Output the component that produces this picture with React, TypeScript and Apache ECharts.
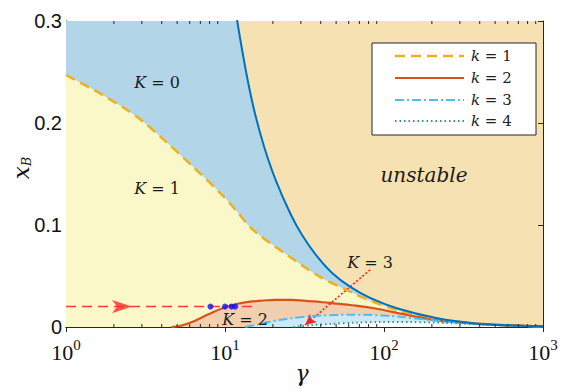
import { useEffect, useRef } from 'react';
import * as echarts from 'echarts';

// stability boundary (blue solid)
const boundaryGamma = [1, 5, 8, 10, 11.95, 12.74, 13.93, 15.49, 17.72, 20.99, 25.97, 30.45, 37.29, 47.17, 61.4, 81.8, 119, 212.4, 342.4, 544, 1000];
const boundaryXB = [10, 1.2, 0.53, 0.39, 0.3, 0.2738, 0.241, 0.2083, 0.1755, 0.1427, 0.11, 0.0904, 0.0707, 0.053, 0.0393, 0.0285, 0.0187, 0.0088, 0.0042, 0.002, 0.0008];

// k = 1 (dashed)
const k1Gamma = [1, 1.7, 2.8, 4.3, 6.3, 9.3, 11.2, 15, 24.6, 39.6, 63.8, 70.6, 109, 152, 225, 363, 600, 1000];
const k1XB = [0.247, 0.2275, 0.206, 0.181, 0.157, 0.1316, 0.118, 0.0953, 0.0707, 0.0491, 0.0334, 0.03, 0.0187, 0.0125, 0.0075, 0.0037, 0.0017, 0.0007];

// k = 2 (solid orange)
const k2Gamma = [4.6, 5.2, 6.2, 7.3, 8.6, 10.2, 12, 14.4, 17.5, 21, 26, 31, 40, 48, 70, 85, 140, 200, 290, 500, 1000];
const k2XB = [0, 0.001, 0.005, 0.0101, 0.0152, 0.0199, 0.0228, 0.0248, 0.026, 0.0265, 0.0265, 0.0258, 0.0245, 0.0232, 0.0205, 0.0186, 0.0118, 0.0072, 0.0045, 0.002, 0.0006];

// k = 3 (dash-dot)
const k3Gamma = [13.4, 16, 19, 22, 27, 33, 40, 50, 60, 75, 100, 130, 195, 300, 500, 1000];
const k3XB = [0, 0.0025, 0.005, 0.0068, 0.0088, 0.0103, 0.0112, 0.0118, 0.012, 0.0119, 0.0112, 0.0098, 0.0069, 0.0042, 0.0018, 0.0005];

// k = 4 (dotted)
const k4Gamma = [27, 35, 46, 65, 94, 150, 250, 400, 650, 1000];
const k4XB = [0, 0.0018, 0.003, 0.0042, 0.0048, 0.0048, 0.004, 0.0026, 0.0013, 0.0004];

// trajectory annotation
const pathGamma = [1, 15.8];
const pathXB = 0.02;
const arrowGamma = 2.6;
const dotGamma = [8.1, 10, 11, 11.6];
const pointerFrom = [81.7, 0.056];
const pointerTo = [31.9, 0.002];

const xTicksMinor = [2, 3, 4, 5, 6, 7, 8, 9, 20, 30, 40, 50, 60, 70, 80, 90, 200, 300, 400, 500, 600, 700, 800, 900];
const legendLabels = ['1', '2', '3', '4'];

const pairs = (xs: number[], ys: number[]) => xs.map((x, i) => [x, ys[i]]);

const C = {
  unstable: '#f6e1b2',
  k0: '#b3d5e8',
  k1: '#faf7c8',
  k2: '#f2cfaf',
  k3: '#cde8f8',
  k4: '#ffffff',
  boundary: '#0072BD',
  l1: '#EDB120',
  l2: '#D95319',
  l3: '#4DBEEE',
  l4: '#1aa37a',
  axis: '#262626',
};

export default function App() {
  const ref = useRef<HTMLDivElement>(null);
  useEffect(() => {
    const chart = echarts.init(ref.current!, null, { renderer: 'svg' });
    const area = (data: number[][], color: string, z: number) => ({
      type: 'line', data, smooth: 0.3, symbol: 'none', showSymbol: false,
      lineStyle: { width: 0 }, areaStyle: { color, opacity: 1 }, z, silent: true,
    });
    const curve = (data: number[][], color: string, width: number, type: any, z: number) => ({
      type: 'line', data, smooth: 0.3, symbol: 'none', showSymbol: false,
      lineStyle: { color, width, type }, z, silent: true,
    });
    const bData = pairs(boundaryGamma, boundaryXB);
    const d1 = pairs(k1Gamma, k1XB);
    const d2 = pairs(k2Gamma, k2XB);
    const d3 = pairs(k3Gamma, k3XB);
    const d4 = pairs(k4Gamma, k4XB);

    const legendStyles = [
      { stroke: C.l1, lineWidth: 2.5, lineDash: [10, 6] },
      { stroke: C.l2, lineWidth: 2.2 },
      { stroke: C.l3, lineWidth: 2, lineDash: [9, 3, 2, 3] },
      { stroke: C.l4, lineWidth: 2, lineDash: [1.5, 3] },
    ];
    const legendY = [56, 78, 100, 121];

    const serifText = (text: string, x: number, y: number, size: number, italicAll = false) => ({
      type: 'text', x, y, z: 100,
      style: {
        text, fill: '#1a1a1a', fontFamily: 'DejaVu Serif', fontSize: size,
        fontStyle: italicAll ? 'italic' : 'normal',
        align: 'center', verticalAlign: 'middle',
        rich: { i: { fontStyle: 'italic', fontFamily: 'DejaVu Serif', fontSize: size } },
      },
    });

    const option: any = {
      animation: false,
      grid: { left: 66, top: 21, width: 477, height: 306, show: true, backgroundColor: C.unstable, borderWidth: 0 },
      xAxis: [
        {
          type: 'log', logBase: 10, min: 1, max: 1000,
          axisLine: { show: true, lineStyle: { color: C.axis, width: 1 } },
          axisTick: { show: true, inside: true, length: 5, lineStyle: { color: C.axis } },
          splitLine: { show: false },
          axisLabel: {
            margin: 10,
            formatter: (v: number) => `{b|10}{s|${Math.round(Math.log10(v))}}`,
            rich: {
              b: { fontSize: 22, fontFamily: 'Liberation Serif', color: '#111', lineHeight: 26, verticalAlign: 'bottom' },
              s: { fontSize: 15, fontFamily: 'Liberation Serif', color: '#111', lineHeight: 12, verticalAlign: 'top' },
            },
          },
        },
        {
          type: 'log', logBase: 10, min: 1, max: 1000, position: 'top',
          axisLine: { show: true, lineStyle: { color: C.axis, width: 1 } },
          axisTick: { show: true, inside: true, length: 5, lineStyle: { color: C.axis } },
          splitLine: { show: false }, axisLabel: { show: false },
        },
      ],
      yAxis: [
        {
          type: 'value', min: 0, max: 0.3, interval: 0.1,
          axisLine: { show: true, lineStyle: { color: C.axis, width: 1 } },
          axisTick: { show: true, inside: true, length: 5, lineStyle: { color: C.axis } },
          splitLine: { show: false },
          axisLabel: { margin: 4, fontSize: 20, fontFamily: 'Liberation Sans', color: '#111' },
        },
        {
          type: 'value', min: 0, max: 0.3, interval: 0.1, position: 'right',
          axisLine: { show: true, lineStyle: { color: C.axis, width: 1 } },
          axisTick: { show: true, inside: true, length: 5, lineStyle: { color: C.axis } },
          splitLine: { show: false }, axisLabel: { show: false },
        },
      ],
      series: [
        area(bData, C.k0, 1),
        area(d1, C.k1, 2),
        area(d2, C.k2, 3),
        area(d3, C.k3, 4),
        area(d4, C.k4, 5),
        curve(d1, C.l1, 2.5, [10, 6], 10),
        curve(d2, C.l2, 2.2, 'solid', 11),
        curve(d3, C.l3, 2, [9, 3, 2, 3], 12),
        curve(d4, C.l4, 2, [1.5, 3], 13),
        curve(bData, C.boundary, 2, 'solid', 14),
        {
          type: 'line', data: pathGamma.map((g) => [g, pathXB]), symbol: 'none', showSymbol: false,
          lineStyle: { color: '#ff3b3b', width: 1.5, type: [10, 6] }, z: 20, silent: true,
          markLine: {
            silent: true, animation: false, symbol: ['none', 'arrow'], symbolSize: [8, 11],
            label: { show: false }, emphasis: { disabled: true },
            lineStyle: { color: '#ff2020', width: 1.6, type: [2, 2] },
            data: [[{ coord: pointerFrom }, { coord: pointerTo }]],
          },
        },
        {
          type: 'scatter', data: [[arrowGamma, pathXB]], symbol: 'arrow', symbolSize: [10, 20],
          symbolRotate: -90, itemStyle: { color: '#ff2a2a' }, z: 21, silent: true,
        },
        {
          type: 'scatter', data: dotGamma.map((g) => [g, pathXB]), symbolSize: 6,
          itemStyle: { color: '#1010ee' }, z: 22, silent: true,
        },
        {
          type: 'custom', coordinateSystem: 'cartesian2d', silent: true, z: 30, clip: false,
          data: xTicksMinor.map((v) => [v, 0]),
          renderItem: (_p: any, api: any) => {
            const v = api.value(0);
            const b = api.coord([v, 0]);
            const t = api.coord([v, 0.3]);
            return {
              type: 'group',
              children: [
                { type: 'line', shape: { x1: b[0], y1: b[1], x2: b[0], y2: b[1] - 3 }, style: { stroke: C.axis, lineWidth: 1 } },
                { type: 'line', shape: { x1: t[0], y1: t[1], x2: t[0], y2: t[1] + 3 }, style: { stroke: C.axis, lineWidth: 1 } },
              ],
            };
          },
        },
      ],
      graphic: [
        serifText('{i|K} = 0', 157, 82, 16),
        serifText('{i|K} = 1', 157, 188, 16),
        serifText('{i|K} = 2', 245, 319, 16),
        serifText('{i|K} = 3', 370, 262, 16),
        serifText('unstable', 424, 175, 20, true),
        {
          type: 'text', x: 302, y: 373, z: 100,
          style: { text: 'γ', fill: '#111', fontFamily: 'DejaVu Serif', fontStyle: 'italic', fontSize: 22, align: 'center', verticalAlign: 'middle' },
        },
        {
          type: 'text', x: 21, y: 168, rotation: Math.PI / 2, z: 100,
          style: {
            text: '{x|x}{b|B}', fill: '#111', align: 'center', verticalAlign: 'middle',
            rich: {
              x: { fontFamily: 'DejaVu Serif', fontStyle: 'italic', fontSize: 23, lineHeight: 24, verticalAlign: 'top' },
              b: { fontFamily: 'DejaVu Serif', fontStyle: 'italic', fontSize: 13, lineHeight: 14, verticalAlign: 'bottom' },
            },
          },
        },
        {
          type: 'rect', z: 100, shape: { x: 372, y: 43, width: 164, height: 92 },
          style: { fill: '#ffffff', stroke: C.axis, lineWidth: 1 },
        },
        ...legendStyles.map((s, i) => ({
          type: 'line', z: 101, shape: { x1: 395, y1: legendY[i], x2: 464, y2: legendY[i] }, style: s,
        })),
        ...legendLabels.map((l, i) => ({
          type: 'text', x: 471, y: legendY[i], z: 101,
          style: {
            text: `{i|k} = ${l}`, fill: '#222', fontFamily: 'DejaVu Serif', fontSize: 15,
            align: 'left', verticalAlign: 'middle',
            rich: { i: { fontStyle: 'italic', fontFamily: 'DejaVu Serif', fontSize: 15 } },
          },
        })),
      ],
    };
    chart.setOption(option);
    return () => chart.dispose();
  }, []);
  return <div ref={ref} style={{ position: 'fixed', left: 0, top: 0, width: 562, height: 392, background: '#fff' }} />;
}
